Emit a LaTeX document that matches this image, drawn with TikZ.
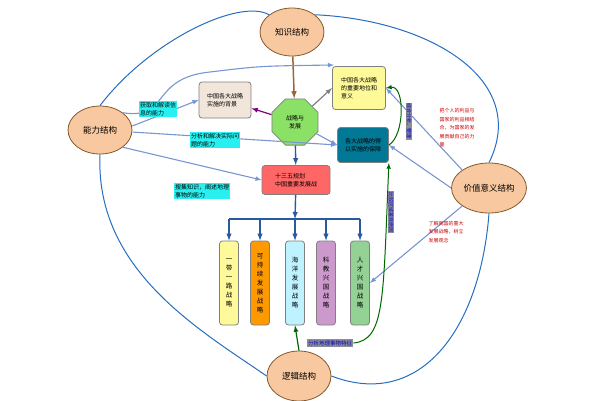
\documentclass[tikz,border=0pt]{standalone}
\usepackage{fontspec}
\setmainfont{Noto Sans CJK SC}
\usetikzlibrary{shapes.geometric,positioning}
\definecolor{skin}{RGB}{248,200,160}
\definecolor{curve}{RGB}{40,110,190}
\definecolor{link}{RGB}{120,150,210}
\definecolor{tealbox}{RGB}{0,120,150}
\definecolor{cyanlab}{RGB}{40,240,240}
\definecolor{greylab}{RGB}{140,140,150}
\definecolor{steelblue}{RGB}{40,90,160}
\begin{document}
\begin{tikzpicture}[x=1pt,y=-1pt,thick,
  oval/.style={ellipse, draw=brown!70!black, fill=skin, minimum width=64pt, minimum height=48pt, inner sep=1pt, font=\fontsize{8.5}{10}\selectfont},
  box/.style={draw=gray, rounded corners=3pt, align=left, inner sep=2pt, font=\fontsize{6}{8}\selectfont},
  strat/.style={draw=gray, rounded corners=3pt, minimum width=19pt, minimum height=84pt, align=center, inner sep=1pt, font=\fontsize{6.5}{9}\selectfont},
  cyanbox/.style={fill=cyanlab, inner sep=1pt, align=left, font=\fontsize{6}{8}\selectfont},
  redtext/.style={text=red!80!black, align=left, font=\fontsize{5}{8.5}\selectfont},
  greybox/.style={fill=greylab, text=blue!80!black, inner sep=1pt, font=\fontsize{5}{6}\selectfont, rotate=-90},
  arr/.style={->, >=latex, link, line width=1.1pt},
  down/.style={->, >=latex, steelblue, line width=1.4pt}]
\useasboundingbox (0,0) rectangle (600,400);

% four structures
\node[oval] (know) at (292,32) {知识结构};
\node[oval] (abil) at (100,130) {能力结构};
\node[oval, minimum width=72pt, minimum height=50pt] (value) at (489,188) {价值意义结构};
\node[oval, minimum height=50pt] (logic) at (299,376) {逻辑结构};

% centre
\node[regular polygon, regular polygon sides=8, draw=gray, fill=green!60!lime!80!black!60, minimum size=50pt, inner sep=0pt, font=\fontsize{6}{8}\selectfont, align=center] (core) at (295,122) {战略与\\发展};
\node[box, fill=brown!20, minimum width=52pt, minimum height=36pt] (bg) at (225,100) {中国各大战略\\实施的背景};
\node[box, fill=yellow!40, minimum width=53pt, minimum height=43pt] (role) at (359,88) {中国各大战略\\的重要地位和\\意义};
\node[box, fill=tealbox, minimum width=51pt, minimum height=35pt] (block) at (363,145) {各大战略的得\\以实施的保障};
\node[box, fill=red!60, minimum width=68pt, minimum height=29pt] (plan) at (296,180) {十三五规划\\中国重要发展战};

% five strategies
\node[strat, fill=yellow!40] (s1) at (229,283) {一\\带\\一\\路\\战\\略};
\node[strat, fill=orange!80!yellow] (s2) at (260,283) {可\\持\\续\\发\\展\\战\\略};
\node[strat, fill=blue!20!cyan!25] (s3) at (295,283) {海\\洋\\发\\展\\战\\略};
\node[strat, fill=violet!40] (s4) at (326,283) {科\\教\\兴\\国\\战\\略};
\node[strat, fill=green!40!gray!60] (s5) at (360,283) {人\\才\\兴\\国\\战\\略};

% tree connectors
\coordinate (bar) at (295,219);
\draw[->, >=latex, brown!80!black, line width=1.5pt] (know) -- (core);
\draw[down] (core) -- (plan);
\draw[down] (plan) -- (bar);
\draw[steelblue, line width=1.4pt] (s1.north |- bar) -- (s5.north |- bar);
\foreach \s in {s1,s2,s3,s4,s5}
  \draw[down] (\s.north |- bar) -- (\s.north);
\draw[->, >=latex, violet, line width=1.2pt] (core) -- (bg);
\draw[->, >=latex, gray, line width=1.2pt] (core) -- (role.west);
\draw[arr] (core) -- (block.west);

% curves between the structures
\draw[curve, line width=1pt] (know.north west) .. controls (240,-2) and (150,40) .. (abil.north);
\draw[curve, line width=1pt] (know.north east) .. controls (430,20) and (530,80) .. (value.north);
\draw[curve, line width=1pt] (abil.south) .. controls (95,270) and (200,330) .. (logic.west);
\draw[curve, line width=1pt] (value.south) .. controls (480,330) and (420,410) .. (logic.east);

% ability arrows
\draw[arr] (abil.north east) .. controls (170,120) and (150,78) .. (210,72) .. controls (260,66) .. (334,65);
\draw[arr] (abil) -- (block.west);
\draw[arr] (abil.south east) -- (plan.west);
\draw[arr] (abil.east) ++(0,-4) -- (bg.west);
\node[cyanbox] (l1) at (158,109) {获取和解读信\\息的能力};
\node[cyanbox] (l2) at (215,140) {分析和解决实际问\\题的能力};
\node[cyanbox] (l3) at (202,191) {搜集知识，阐述地理\\事物的能力};

% value arrows
\draw[arr] (value.north west) -- (role.east);
\draw[arr] (value.west) -- (block.east);
\draw[arr] (value.south west) -- (s5.east);
\node[redtext] (r1) at (457,128) {把个人的利益与\\国家的利益相结\\合，为国家的发\\展贡献自己的力\\量};
\node[redtext] (r2) at (446,232) {了解我国的重大\\发展战略，树立\\发展观念};

% logic arrows
\draw[->, >=latex, green!40!black, line width=1.2pt] (logic.north) -- (s3.south);
\node[fill=greylab, text=blue!80!black, inner sep=1pt, font=\fontsize{5.5}{7}\selectfont] (lab) at (330,343) {分析地理事物特征};
\draw[->, >=latex, green!40!black, line width=1pt] (lab.east) .. controls (385,340) and (383,300) .. (block.south east);
\draw[->, >=latex, green!40!black, line width=1pt] (block.east) .. controls (405,135) and (405,85) .. (role.east);
\node[greybox] (g1) at (409,121) {综合分析、整理};
\node[greybox] (g2) at (391,212) {比较区域差异原因};
\end{tikzpicture}
\end{document}
